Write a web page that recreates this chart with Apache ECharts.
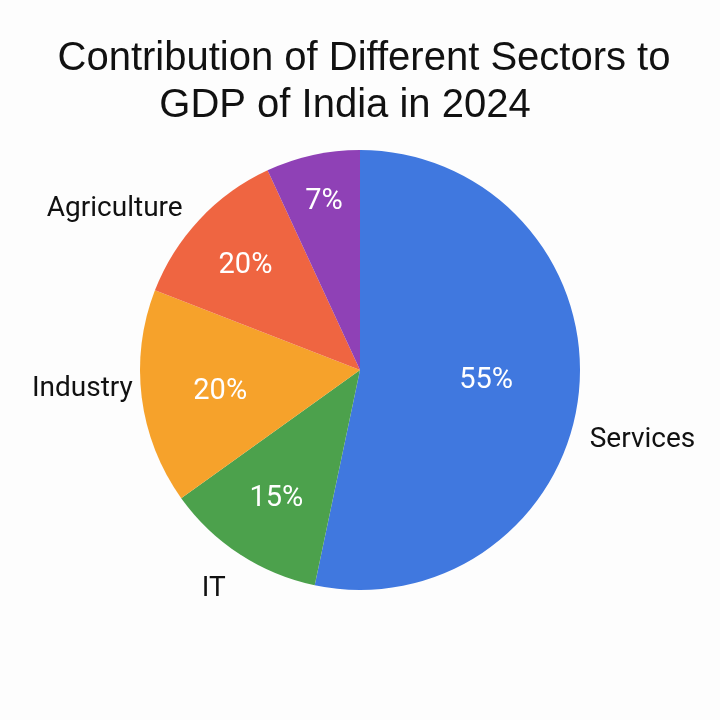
<!DOCTYPE html>
<html>
<head>
<meta charset="utf-8">
<script src="https://cdn.jsdelivr.net/npm/echarts@6/dist/echarts.min.js"></script>
<style>
  html, body { margin: 0; background: #fdfdfd; }
  #chart { width: 720px; height: 720px; }
</style>
</head>
<body>
<div id="chart"></div>
<script>
// sector names, clockwise from 12 o'clock
const sectors = ['Services', 'IT', 'Industry', 'Agriculture', 'Other']
// slice sizes as drawn
const shares = [53.3, 11.8, 15.8, 12.2, 6.9]
// percentages printed on the slices
const printedPct = ['55%', '15%', '20%', '20%', '7%']
// names written outside the pie (purple slice has none)
const outerNames = ['Services', 'IT', 'Industry', 'Agriculture', '']
const titleLines = ['Contribution of Different Sectors to', 'GDP of India in 2024']

const colors = ['#4078df', '#4ca14c', '#f6a22b', '#ef6541', '#8f41b6']
const font = 'Roboto'

// small nudges so the labels sit where the original put them
const nameNudge = [[-13, 46], [3, 22], [15, -10], [3, 0], [0, 0]]
const pctNudge = [[-26, -5], [0, 1], [12, 3], [-3, 0], [-3, -19]]

const chart = echarts.init(document.getElementById('chart'))

const pieData = sectors.map((name, i) => ({
   name: name,
   value: shares[i],
   itemStyle: { color: colors[i] }
}))

const titleStyle = {
   fontFamily: 'Liberation Sans',
   fontSize: 40,
   fontWeight: 'normal',
   lineHeight: 46,
   color: '#111'
}

const option = {
   backgroundColor: '#fdfdfd',
   // the two title lines are not centred on each other in the original
   title: [
      { text: titleLines[0], left: 359, top: 31, textAlign: 'center', textStyle: titleStyle },
      { text: titleLines[1], left: 340, top: 78, textAlign: 'center', textStyle: titleStyle }
   ],
   series: [
      {
         // the visible pie with the outer name labels
         type: 'pie',
         center: [360, 370],
         radius: [0, 220],
         startAngle: 90,
         clockwise: true,
         avoidLabelOverlap: false,
         silent: true,
         data: pieData,
         label: {
            show: true,
            position: 'outside',
            formatter: p => outerNames[p.dataIndex],
            fontFamily: font,
            fontSize: 28,
            color: '#111'
         },
         labelLine: { show: false, length: 15, length2: 4 },
         labelLayout: p => ({ dx: nameNudge[p.dataIndex][0], dy: nameNudge[p.dataIndex][1] })
      },
      {
         // transparent copy only to place the percentage labels inside
         type: 'pie',
         center: [360, 370],
         radius: [0, 300],
         startAngle: 90,
         clockwise: true,
         silent: true,
         data: sectors.map((name, i) => ({ name: name, value: shares[i] })),
         itemStyle: { color: 'rgba(0,0,0,0)' },
         label: {
            show: true,
            position: 'inside',
            formatter: p => printedPct[p.dataIndex],
            fontFamily: font,
            fontSize: 29,
            color: '#fff'
         },
         labelLine: { show: false },
         labelLayout: p => ({ dx: pctNudge[p.dataIndex][0], dy: pctNudge[p.dataIndex][1] })
      }
   ]
}

chart.setOption(option)
</script>
</body>
</html>
